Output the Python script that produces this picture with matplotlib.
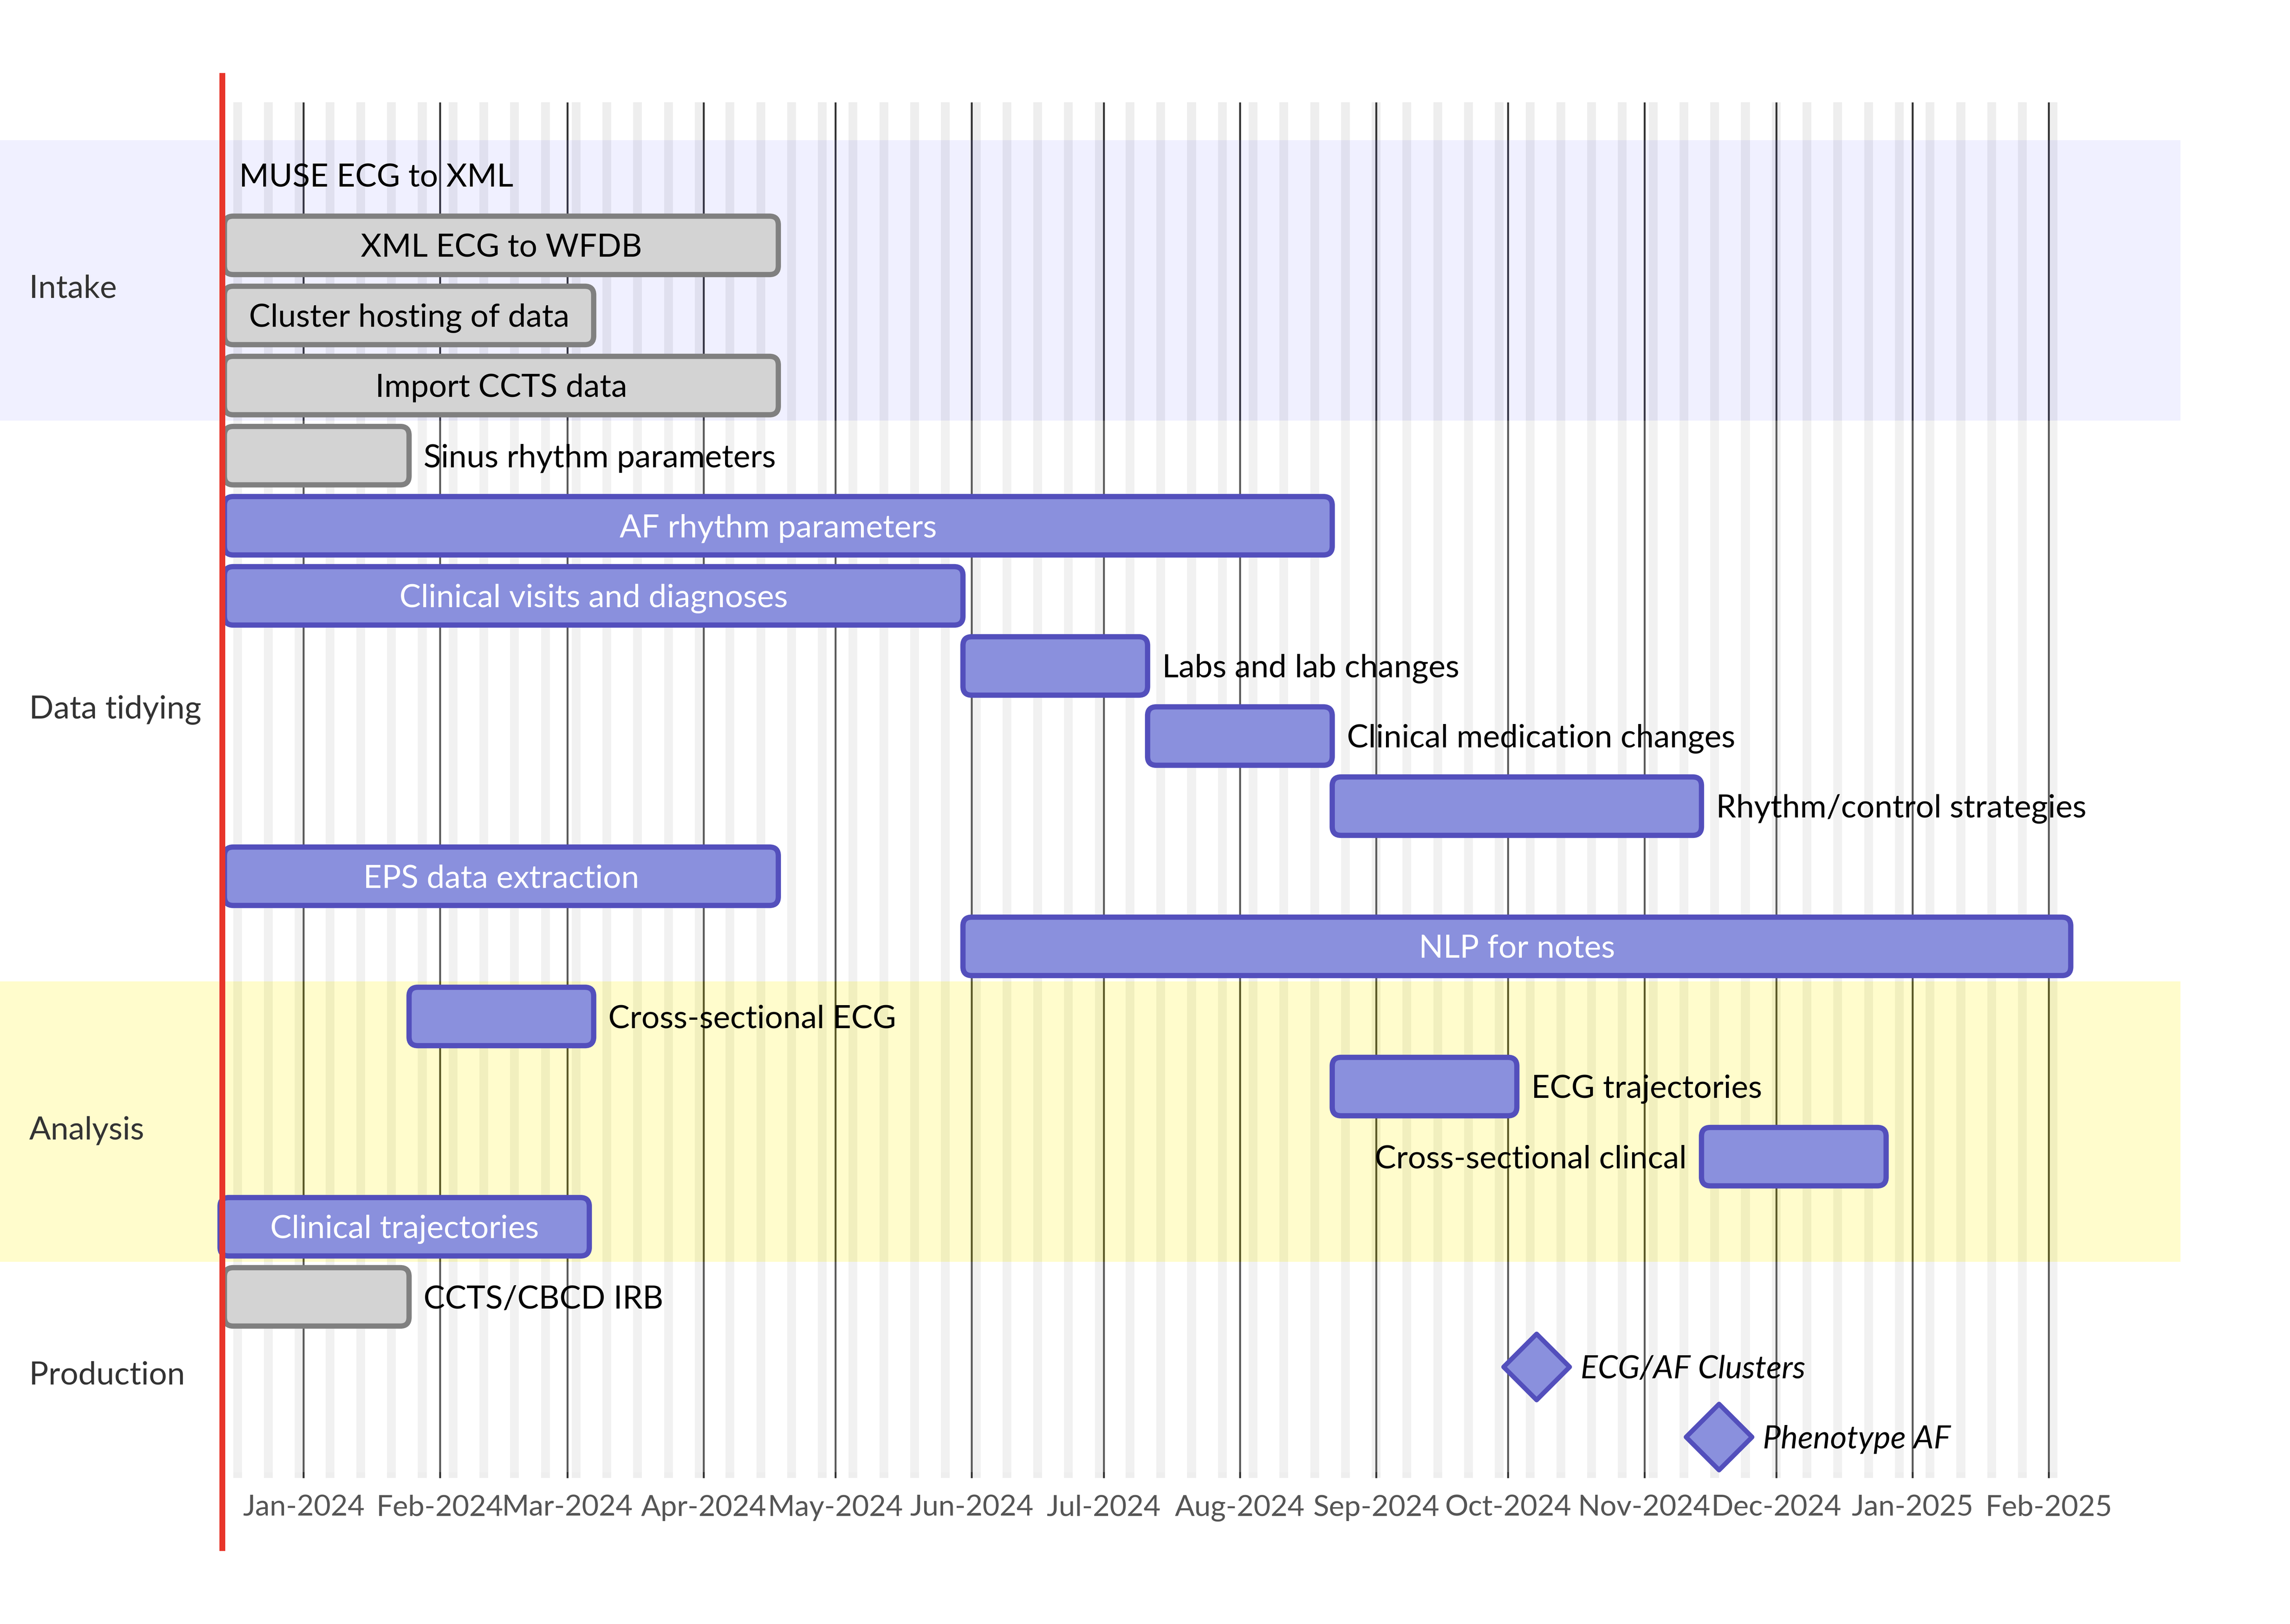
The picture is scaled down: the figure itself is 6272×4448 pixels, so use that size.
import matplotlib
matplotlib.use("Agg")
import matplotlib.pyplot as plt
import matplotlib.dates as mdates
import matplotlib.transforms as mtransforms
from matplotlib.patches import FancyBboxPatch, Polygon, Rectangle
import pandas as pd

# ---------------- data ----------------
section_names = ["Intake", "Data tidying", "Analysis", "Production"]

task_names = [
    "MUSE ECG to XML",
    "XML ECG to WFDB",
    "Cluster hosting of data",
    "Import CCTS data",
    "Sinus rhythm parameters",
    "AF rhythm parameters",
    "Clinical visits and diagnoses",
    "Labs and lab changes",
    "Clinical medication changes",
    "Rhythm/control strategies",
    "EPS data extraction",
    "NLP for notes",
    "Cross-sectional ECG",
    "ECG trajectories",
    "Cross-sectional clincal",
    "Clinical trajectories",
    "CCTS/CBCD IRB",
    "ECG/AF Clusters",
    "Phenotype AF",
]
task_sections = [
    "Intake", "Intake", "Intake", "Intake",
    "Data tidying", "Data tidying", "Data tidying", "Data tidying",
    "Data tidying", "Data tidying", "Data tidying", "Data tidying",
    "Analysis", "Analysis", "Analysis", "Analysis",
    "Production", "Production", "Production",
]
task_starts = [
    "2023-12-14", "2023-12-14", "2023-12-14", "2023-12-14",
    "2023-12-14", "2023-12-14", "2023-12-14", "2024-05-30",
    "2024-07-11", "2024-08-22", "2023-12-14", "2024-05-30",
    "2024-01-25", "2024-08-22", "2024-11-14", "2023-12-13",
    "2023-12-14", "2024-10-07 12:00", "2024-11-18",
]
task_durations_days = [
    0, 126, 84, 126,
    42, 252, 168, 42,
    42, 84, 126, 252,
    42, 42, 42, 84,
    42, 0, 0,
]
task_kinds = [
    "done", "done", "done", "done",
    "done", "task", "task", "task",
    "task", "task", "task", "task",
    "task", "task", "task", "task",
    "done", "milestone", "milestone",
]
today_marker = "2023-12-13 12:00"
axis_format = "%b-%Y"

# ---------------- layout / style ----------------
W_PX, H_PX = 1568, 1112
DPI = 400
PT = 72 / 100.0          # one layout pixel (1/100 in) expressed in points
origin_date = "2024-01-01"
origin_px = 207.85
px_per_day = 3.01
row_top, row_h, bar_h = 96, 48, 40
grid_top, grid_bottom = 70, 1012
band_right = 1493
text_pad = 10
FONT = 22 * PT
TICK_FONT = 20 * PT

plt.rcParams['font.family'] = ['Lato', 'DejaVu Sans']

section_colors = [((102/255, 102/255, 1.0), 0.098),
                  ((1, 1, 1), 0.2),
                  ((1.0, 244/255, 0.0), 0.2),
                  ((1, 1, 1), 0.2)]
done_fill, done_edge = "#d3d3d3", "#808080"
task_fill, task_edge = "#8a90dd", "#534fbc"

fig = plt.figure(figsize=(W_PX / 100, H_PX / 100), dpi=DPI)
ax = fig.add_axes([0, 0, 1, 1])
ax.axis("off")
o = mdates.date2num(pd.Timestamp(origin_date))
ax.set_xlim(o - origin_px / px_per_day, o + (W_PX - origin_px) / px_per_day)
ax.set_ylim(H_PX, 0)
blend = mtransforms.blended_transform_factory(ax.transAxes, ax.transData)

starts = [mdates.date2num(pd.Timestamp(s)) for s in task_starts]
ends = [s + d for s, d in zip(starts, task_durations_days)]
today = mdates.date2num(pd.Timestamp(today_marker))
dmin, dmax = min(starts + [today]), max(ends)
tmin = pd.Timestamp(mdates.num2date(dmin)).tz_localize(None)
tmax = pd.Timestamp(mdates.num2date(dmax)).tz_localize(None)

# weekend (excluded) stripes
for sat in pd.date_range(tmin.normalize(), tmax, freq="W-SAT"):
    x0 = mdates.date2num(sat)
    ax.add_patch(Rectangle((x0, grid_top), 2, grid_bottom - grid_top,
                           fc="#eeeeee", ec="none", zorder=1))

# month grid lines + labels
for mt in pd.date_range(tmin, tmax, freq="MS"):
    m = mdates.date2num(mt)
    ax.vlines(m, grid_top, grid_bottom, color="#333333", lw=1.3 * PT, zorder=1.5)
    ax.text(m, 1038, mt.strftime(axis_format), ha="center", va="baseline",
            fontsize=TICK_FONT, color="#555555", zorder=4)

# section bands + titles
for si, sec in enumerate(section_names):
    rows = [i for i, s in enumerate(task_sections) if s == sec]
    y0 = row_top + row_h * min(rows)
    y1 = row_top + row_h * (max(rows) + 1)
    col, a = section_colors[si % len(section_colors)]
    ax.add_patch(Rectangle((0, y0), band_right / W_PX, y1 - y0, transform=blend,
                           fc=col, alpha=a, ec="none", zorder=2))
    ax.text(20 / W_PX, (y0 + y1) / 2 + 12, sec, transform=blend, ha="left", va="baseline",
            fontsize=FONT, color="#333333", zorder=4)

fig.canvas.draw()
renderer = fig.canvas.get_renderer()
scale = DPI / 100.0

for i, (name, s, e, kind) in enumerate(zip(task_names, starts, ends, task_kinds)):
    yc = row_top + row_h * i + row_h / 2
    yb = yc + 7.8
    if kind == "milestone":
        c = (s + e) / 2
        half = 22.6
        dx = half / px_per_day
        ax.add_patch(Polygon([(c - dx, yc), (c, yc - half), (c + dx, yc), (c, yc + half)],
                             closed=True, fc=task_fill, ec=task_edge, lw=3.2 * PT,
                             joinstyle="round", zorder=3))
        ax.annotate(name, xy=(c, yb), xytext=(30 * PT, 0), textcoords="offset points",
                    ha="left", va="baseline", fontsize=FONT, style="italic",
                    color="black", zorder=4)
        continue
    fill, edge = (done_fill, done_edge) if kind == "done" else (task_fill, task_edge)
    if e > s:
        ax.add_patch(FancyBboxPatch((s, yc - bar_h / 2), e - s, bar_h,
                                    boxstyle=f"round,pad=0,rounding_size={6 / px_per_day}",
                                    mutation_aspect=px_per_day,
                                    fc=fill, ec=edge, lw=3.6 * PT, zorder=3))
    t = ax.text((s + e) / 2, yb, name, ha="center", va="baseline", fontsize=FONT, zorder=4)
    w_px = t.get_window_extent(renderer).width / scale
    bar_px = (e - s) * px_per_day
    if w_px <= bar_px:
        t.set_color("black" if kind == "done" else "white")
    else:
        t.remove()
        end_px = (e - ax.get_xlim()[0]) * px_per_day
        if end_px + text_pad + w_px > band_right:
            ax.annotate(name, xy=(s, yb), xytext=(-text_pad * PT, 0), textcoords="offset points",
                        ha="right", va="baseline", fontsize=FONT, color="black", zorder=4)
        else:
            ax.annotate(name, xy=(e, yb), xytext=(text_pad * PT, 0), textcoords="offset points",
                        ha="left", va="baseline", fontsize=FONT, color="black", zorder=4)

# today marker
ax.vlines(today, 50, 1062, color="#e8352a", lw=4 * PT, zorder=6)

fig.savefig("out.png", dpi=DPI, facecolor="white")
